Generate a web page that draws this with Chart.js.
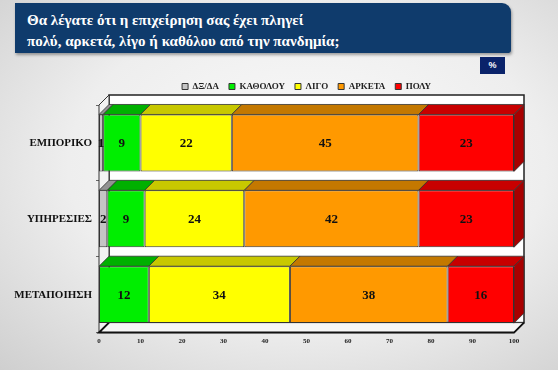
<!DOCTYPE html>
<html>
<head>
<meta charset="utf-8">
<script src="https://cdn.jsdelivr.net/npm/chart.js@4"></script>
<style>
  html, body { margin: 0; padding: 0; }
  body {
    width: 558px; height: 370px; overflow: hidden; position: relative;
    background: radial-gradient(ellipse at 55% 45%, #fbfbfb 0%, #eeeeee 55%, #cfcfcf 100%);
  }
  #title {
    position: absolute; left: 15px; top: 3px; width: 484px; height: 43px;
    padding: 7px 0 0 12px;
    background: #0f3b6c; border-radius: 0 9px 3px 0;
    box-shadow: 1px 2px 3px rgba(0,0,0,0.35);
    color: #fff; font-family: "Liberation Serif", "Times New Roman", serif;
    font-weight: bold; font-size: 15px; line-height: 20.5px;
  }
  #pct {
    position: absolute; left: 480px; top: 57px; width: 25px; height: 17px;
    background: #0a236a; color: #fff; text-align: center;
    font-family: "Liberation Sans", sans-serif; font-weight: bold; font-size: 9px; line-height: 17px;
  }
  #wrap { position: absolute; left: 0; top: 0; width: 558px; height: 370px; }
</style>
</head>
<body>
<div id="title">Θα λέγατε ότι η επιχείρηση σας έχει πληγεί<br>πολύ, αρκετά, λίγο ή καθόλου από την πανδημία;</div>
<div id="pct">%</div>
<div id="wrap"><canvas id="chart" width="558" height="370"></canvas></div>
<script>
const categories = ['ΕΜΠΟΡΙΚΟ', 'ΥΠΗΡΕΣΙΕΣ', 'ΜΕΤΑΠΟΙΗΣΗ'];
const seriesNames = ['ΔΞ/ΔΑ', 'ΚΑΘΟΛΟΥ', 'ΛΙΓΟ', 'ΑΡΚΕΤΑ', 'ΠΟΛΥ'];
const dkna = [1, 2, 0];
const notAtAll = [9, 9, 12];
const little = [22, 24, 34];
const enough = [45, 42, 38];
const much = [23, 23, 16];
const xTicks = [0, 10, 20, 30, 40, 50, 60, 70, 80, 90, 100];

const frontColors = ['#c4c4c4', '#00ee00', '#ffff00', '#ff9900', '#ff0000'];
const topColors = ['#939393', '#00b000', '#c8c800', '#c47800', '#c80000'];
const sideColors = ['#8a8a8a', '#009a00', '#a8a800', '#a86400', '#a80000'];
const DEPTH = 10;

const serif = '"Liberation Serif", "Times New Roman", serif';

// back wall, left wall and floor of the 3D box
const box3d = {
  id: 'box3d',
  beforeDatasetsDraw(chart) {
    const {ctx, chartArea: a} = chart;
    const d = DEPTH;
    ctx.save();
    ctx.fillStyle = '#ffffff';
    ctx.fillRect(a.left + d, a.top - d, a.right - a.left, a.bottom - a.top);
    ctx.lineWidth = 1.5;
    ctx.strokeStyle = '#222';
    ctx.strokeRect(a.left + d, a.top - d, a.right - a.left, a.bottom - a.top);
    ctx.lineWidth = 1;
    ctx.strokeStyle = '#333';
    // left wall
    ctx.beginPath();
    ctx.moveTo(a.left, a.top);
    ctx.lineTo(a.left + d, a.top - d);
    ctx.lineTo(a.left + d, a.bottom - d);
    ctx.lineTo(a.left, a.bottom);
    ctx.closePath();
    ctx.fillStyle = '#f2f2f2';
    ctx.fill();
    ctx.stroke();
    // floor
    ctx.beginPath();
    ctx.moveTo(a.left, a.bottom);
    ctx.lineTo(a.left + d, a.bottom - d);
    ctx.lineTo(a.right + d, a.bottom - d);
    ctx.lineTo(a.right, a.bottom);
    ctx.closePath();
    ctx.fillStyle = '#f6f6f6';
    ctx.fill();
    ctx.stroke();
    ctx.lineWidth = 2;
    ctx.strokeStyle = '#111';
    ctx.beginPath();
    ctx.moveTo(a.left + d, a.bottom - d);
    ctx.lineTo(a.left, a.bottom);
    ctx.lineTo(a.right, a.bottom);
    ctx.lineTo(a.right + d, a.bottom - d);
    ctx.stroke();
    ctx.restore();
  },
  afterDatasetsDraw(chart) {
    const {ctx} = chart;
    const d = DEPTH;
    const last = {};
    ctx.save();
    ctx.lineWidth = 0.8;
    ctx.strokeStyle = '#333';
    chart.data.datasets.forEach((ds, di) => {
      const meta = chart.getDatasetMeta(di);
      meta.data.forEach((el, i) => {
        if (!ds.data[i]) return;
        const {x, y, base, height} = el.getProps(['x', 'y', 'base', 'height'], true);
        const l = Math.min(x, base), r = Math.max(x, base);
        const t = y - height / 2;
        ctx.beginPath();
        ctx.moveTo(l, t);
        ctx.lineTo(l + d, t - d);
        ctx.lineTo(r + d, t - d);
        ctx.lineTo(r, t);
        ctx.closePath();
        ctx.fillStyle = topColors[di];
        ctx.fill();
        ctx.stroke();
        last[i] = {r, t, b: y + height / 2, di};
      });
    });
    Object.values(last).forEach(s => {
      ctx.beginPath();
      ctx.moveTo(s.r, s.t);
      ctx.lineTo(s.r + d, s.t - d);
      ctx.lineTo(s.r + d, s.b - d);
      ctx.lineTo(s.r, s.b);
      ctx.closePath();
      ctx.fillStyle = sideColors[s.di];
      ctx.fill();
      ctx.stroke();
    });
    // value labels
    ctx.fillStyle = '#111';
    ctx.font = 'bold 13px ' + serif;
    ctx.textAlign = 'center';
    ctx.textBaseline = 'middle';
    chart.data.datasets.forEach((ds, di) => {
      chart.getDatasetMeta(di).data.forEach((el, i) => {
        if (!ds.data[i]) return;
        const {x, y, base} = el.getProps(['x', 'y', 'base'], true);
        ctx.fillText(ds.data[i], (x + base) / 2, y + 1);
      });
    });
    ctx.restore();
  }
};

const values = [dkna, notAtAll, little, enough, much];

new Chart(document.getElementById('chart'), {
  type: 'bar',
  data: {
    labels: categories,
    datasets: seriesNames.map((name, k) => ({
      label: name,
      data: values[k],
      backgroundColor: frontColors[k],
      borderColor: '#333',
      borderWidth: 1,
      borderSkipped: false,
      barPercentage: 0.75,
      categoryPercentage: 1
    }))
  },
  options: {
    indexAxis: 'y',
    responsive: false,
    animation: false,
    layout: { padding: { top: 72, left: 0, right: 44, bottom: 21 } },
    plugins: {
      legend: {
        fullSize: false,
        labels: {
          boxWidth: 6, boxHeight: 6, padding: 10, color: '#222',
          font: { family: serif, size: 9, weight: 'bold' }
        }
      },
      tooltip: { enabled: false }
    },
    scales: {
      x: {
        stacked: true, min: 0, max: 100,
        afterBuildTicks(scale) { scale.ticks = xTicks.map(v => ({value: v})); },
        grid: { display: false, drawTicks: false },
        border: { display: false },
        ticks: { padding: 4, color: '#222', font: { family: serif, size: 7, weight: 'bold' } }
      },
      spacer: {
        axis: 'x', position: 'top', display: true,
        grid: { display: false, drawTicks: false },
        border: { display: false },
        ticks: { display: false },
        afterFit(scale) { scale.height = 4; }
      },
      y: {
        stacked: true,
        grid: { drawOnChartArea: false, tickLength: 3, color: '#666' },
        border: { display: false },
        ticks: { padding: 4, color: '#111', font: { family: serif, size: 11, weight: 'bold' } },
        afterFit(scale) { scale.width = 99; }
      }
    }
  },
  plugins: [box3d]
});
</script>
</body>
</html>
